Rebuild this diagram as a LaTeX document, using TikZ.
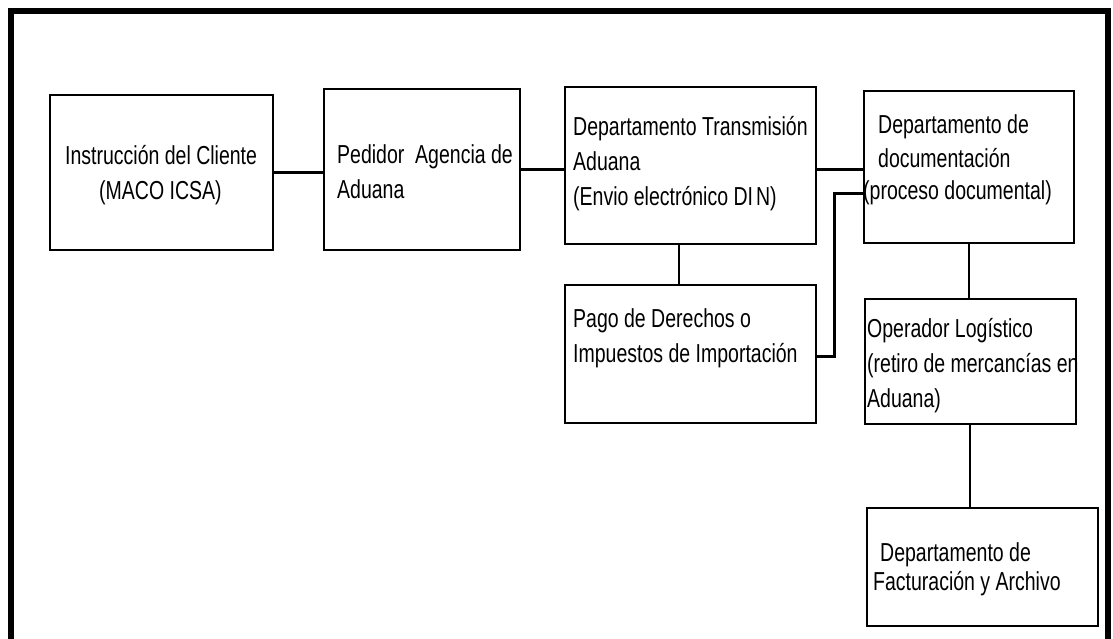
\documentclass[tikz,border=0pt]{standalone}
\usepackage{fontspec}
\setmainfont{Liberation Sans}[FakeStretch=0.75]
\begin{document}
\begin{tikzpicture}[x=1pt,y=-1pt,
  box/.style={draw, line width=1.6pt, inner sep=0pt, anchor=north west},
  txt/.style={anchor=base west, align=left, inner sep=0pt},
  conn/.style={line width=3.2pt},
  vconn/.style={line width=2pt}]
\useasboundingbox (0,0) rectangle (1113,639);
\clip (0,0) rectangle (1113,639);
\fill[white] (0,0) rectangle (1113,639);
% frame
\draw[line width=6pt] (11,700) -- (11,11) -- (1108,11) -- (1108,700);
% boxes
\node[box, minimum width=223pt, minimum height=155pt] (b1) at (49,94) {};
\node[box, minimum width=196pt, minimum height=161pt] (b2) at (323,88) {};
\node[box, minimum width=251pt, minimum height=157pt] (b3) at (564,86) {};
\node[box, minimum width=251pt, minimum height=138pt] (b4) at (564,284) {};
\node[box, minimum width=210pt, minimum height=152pt] (b5) at (863,90) {};
\node[box, minimum width=211pt, minimum height=125pt] (b6) at (864,298) {};
\node[box, minimum width=231pt, minimum height=118pt] (b7) at (866,507) {};
% texts (anchored at the baseline of the last line)
\node[txt, font=\fontsize{26}{35}\selectfont] (t1) at (65,200) {Instrucción del Cliente\\\hspace*{34pt}(MACO ICSA)};
\node[txt, font=\fontsize{26}{35}\selectfont] (t2) at (337,198) {Pedidor~ Agencia de\\Aduana};
\node[txt, font=\fontsize{26}{35}\selectfont] (t3) at (573,205) {Departamento Transmisión\\Aduana\\(Envio electrónico DI\kern3pt N)};
\node[txt, font=\fontsize{26}{35}\selectfont] (t4) at (573,362) {Pago de Derechos o\\Impuestos de Importación};
\node[txt, font=\fontsize{26}{33}\selectfont] (t5) at (863,200) {\hspace*{15pt}Departamento de\\\hspace*{15pt}documentación\\(proceso documental)};
\node[txt, font=\fontsize{26}{35}\selectfont] (t6) at (867,407) {Operador Logístico\\(retiro de mercancías en\\Aduana)};
\node[txt, font=\fontsize{26}{29}\selectfont] (t7) at (873,590) {\hspace*{7pt}Departamento de\\Facturación y Archivo};
% connectors
\coordinate (c3) at ([yshift=-4.5pt]b3.east);
\coordinate (c4) at ([yshift=-3pt]b4.east);
\coordinate (c5) at ([yshift=-27pt]b5.west);
\draw[conn] (b1.east) -- (b2.west |- b1.east);
\draw[conn] (b2.east) -- (b3.west |- b2.east);
\draw[conn] (c3) -- (b5.west |- c3);
\draw[vconn] ([xshift=-11.5pt]b3.south) -- ([xshift=-11.5pt]b4.north);
\draw[conn] (c4) -- ++(18,0) |- (c5);
\draw[vconn] (b5.south) -- (b6.north -| b5.south);
\draw[vconn] (b6.south) -- (b7.north -| b6.south);
\end{tikzpicture}
\end{document}
